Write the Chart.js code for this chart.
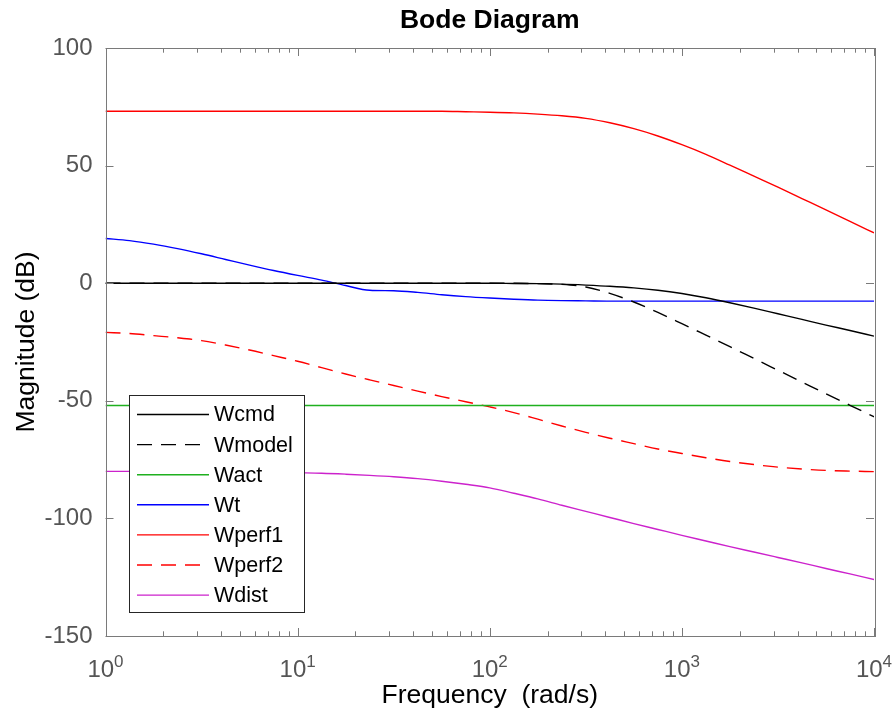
<!DOCTYPE html>
<html>
<head>
<meta charset="utf-8">
<title>Bode Diagram</title>
<script src="https://cdn.jsdelivr.net/npm/chart.js@4.4.1/dist/chart.umd.min.js"></script>
<style>
  html, body { margin: 0; padding: 0; background: #ffffff; }
  #wrap { width: 894px; height: 717px; }
</style>
</head>
<body>
<div id="wrap"><canvas id="bode" width="894" height="717"></canvas></div>
<script>
// Frequency grid (rad/s), eighth-decade spacing from 1 to 1e4
const freq = [1, 1.334, 1.778, 2.371, 3.162, 4.217, 5.623, 7.499,
  10, 13.34, 17.78, 23.71, 31.62, 42.17, 56.23, 74.99,
  100, 133.4, 177.8, 237.1, 316.2, 421.7, 562.3, 749.9,
  1000, 1334, 1778, 2371, 3162, 4217, 5623, 7499, 10000];

// Magnitudes (dB) of each weighting function on the grid above
const wcmd = [0, 0, 0, 0, 0, 0, 0, 0, 0, 0, 0, 0, 0, 0, 0, 0, 0,
  -0.1, -0.2, -0.4, -0.8, -1.3, -2.0, -3.0, -4.4, -6.2, -8.3, -10.6, -13.0, -15.4, -17.8, -20.1, -22.5];
const wmodel = [0, 0, 0, 0, 0, 0, 0, 0, 0, 0, 0, 0, 0, 0, 0, 0, 0, 0,
  -0.2, -0.5, -1.6, -4.3, -8.0, -12.4, -17.2, -22.1, -27.0, -32.0, -37.0, -42.0, -47.0, -51.9, -56.8];
const wact = [-52, -52, -52, -52, -52, -52, -52, -52, -52, -52, -52, -52, -52, -52, -52, -52, -52,
  -52, -52, -52, -52, -52, -52, -52, -52, -52, -52, -52, -52, -52, -52, -52, -52];
const wt = [19.0, 18.1, 16.6, 14.7, 12.5, 10.1, 7.7, 5.4, 3.3, 1.3, -1.0, -3.0, -3.2, -3.9, -4.9, -5.7,
  -6.3, -6.8, -7.2, -7.4, -7.5, -7.6, -7.6, -7.6, -7.6, -7.6, -7.6, -7.6, -7.6, -7.6, -7.6, -7.6, -7.6];
const wperf1 = [73.1, 73.1, 73.1, 73.1, 73.1, 73.1, 73.1, 73.1, 73.1, 73.1, 73.1, 73.1, 73.1, 73.1, 73.1,
  72.9, 72.7, 72.4, 71.9, 71.2, 70.1, 68.2, 65.7, 62.6, 58.9, 54.8, 50.2, 45.5, 40.8, 36.0, 31.2, 26.3, 21.4];
const wperf2 = [-20.9, -21.4, -22.3, -23.2, -24.4, -26.3, -28.4, -30.8, -33.2, -35.9, -38.6, -41.1, -43.5,
  -45.9, -48.2, -50.4, -52.6, -55.0, -57.8, -60.7, -63.4, -65.9, -68.2, -70.5, -72.4, -74.2, -75.8,
  -77.1, -78.2, -79.0, -79.6, -79.9, -80.1];
const wdist = [-80.0, -80.0, -80.0, -80.1, -80.1, -80.2, -80.3, -80.4, -80.6, -80.8, -81.2, -81.7, -82.3,
  -83.1, -84.2, -85.5, -87.0, -89.3, -91.7, -94.4, -97.0, -99.6, -102.2, -104.7, -107.2, -109.6,
  -112.0, -114.3, -116.6, -118.9, -121.3, -123.6, -126.0];

const seriesNames = ['Wcmd', 'Wmodel', 'Wact', 'Wt', 'Wperf1', 'Wperf2', 'Wdist'];
const seriesValues = [wcmd, wmodel, wact, wt, wperf1, wperf2, wdist];
const seriesColors = ['#000000', '#000000', '#1fb01f', '#0000ff', '#ff0000', '#ff0000', '#cc22cc'];
const seriesDashed = [false, true, false, false, false, true, false];

const yTicks = [-150, -100, -50, 0, 50, 100];
const xDecadeExponents = [0, 1, 2, 3, 4];

const FONT = '"Liberation Sans", Arial, Helvetica, sans-serif';
const DASH = [15, 9];

const datasets = seriesNames.map((name, i) => ({
  label: name,
  data: freq.map((f, k) => ({ x: f, y: seriesValues[i][k] })),
  borderColor: seriesColors[i],
  backgroundColor: seriesColors[i],
  borderWidth: 1.4,
  borderDash: seriesDashed[i] ? DASH : [],
  pointRadius: 0,
  fill: false,
  cubicInterpolationMode: 'monotone'
}));

// Axes box, inward ticks, decade labels, axis titles, title and legend
const bodeFrame = {
  id: 'bodeFrame',
  afterDatasetsDraw(chart) {
    const ctx = chart.ctx;
    // legend inside the axes, lower left
    const lx = 129.5, ly = 395.5, lw = 175, lh = 217;
    const rowTop = 414.5, rowStep = 30.1;
    ctx.save();
    ctx.fillStyle = '#ffffff';
    ctx.fillRect(lx, ly, lw, lh);
    ctx.strokeStyle = '#262626';
    ctx.lineWidth = 1;
    ctx.strokeRect(lx, ly, lw, lh);
    ctx.font = '21.5px ' + FONT;
    ctx.textBaseline = 'middle';
    ctx.textAlign = 'left';
    chart.data.datasets.forEach((ds, i) => {
      const y = rowTop + i * rowStep;
      ctx.beginPath();
      ctx.setLineDash(ds.borderDash || []);
      ctx.strokeStyle = ds.borderColor;
      ctx.lineWidth = ds.borderWidth;
      ctx.moveTo(137, y);
      ctx.lineTo(209, y);
      ctx.stroke();
      ctx.setLineDash([]);
      ctx.fillStyle = '#000000';
      ctx.fillText(ds.label, 214, y + 1);
    });
    ctx.restore();
  },
  afterDraw(chart) {
    const ctx = chart.ctx;
    const a = chart.chartArea;
    const xs = chart.scales.x, ys = chart.scales.y;
    ctx.save();
    ctx.strokeStyle = '#7a7a7a';
    ctx.lineWidth = 1;
    ctx.strokeRect(Math.round(a.left) + 0.5, Math.round(a.top) + 0.5,
      Math.round(a.right - a.left), Math.round(a.bottom - a.top));

    // y ticks, left and right, pointing inward
    ctx.beginPath();
    ys.ticks.forEach(t => {
      const py = Math.round(ys.getPixelForValue(t.value)) + 0.5;
      ctx.moveTo(a.left, py); ctx.lineTo(a.left + 8, py);
      ctx.moveTo(a.right, py); ctx.lineTo(a.right - 8, py);
    });
    // x ticks (decades long, in-between short), bottom and top
    xs.ticks.forEach(t => {
      const major = Math.abs(Math.log10(t.value) - Math.round(Math.log10(t.value))) < 1e-9;
      const len = major ? 8 : 4.7;
      const px = Math.round(xs.getPixelForValue(t.value)) + 0.5;
      ctx.moveTo(px, a.bottom); ctx.lineTo(px, a.bottom - len);
      ctx.moveTo(px, a.top); ctx.lineTo(px, a.top + len);
    });
    ctx.stroke();

    // decade labels 10^n
    ctx.fillStyle = '#555555';
    ctx.textBaseline = 'alphabetic';
    ctx.textAlign = 'left';
    xDecadeExponents.forEach(e => {
      const px = xs.getPixelForValue(Math.pow(10, e));
      ctx.font = '24px ' + FONT;
      const wBase = ctx.measureText('10').width;
      ctx.font = '17px ' + FONT;
      const wExp = ctx.measureText(String(e)).width;
      const x0 = px - (wBase + wExp) / 2;
      ctx.font = '24px ' + FONT;
      ctx.fillText('10', x0, a.bottom + 41);
      ctx.font = '17px ' + FONT;
      ctx.fillText(String(e), x0 + wBase, a.bottom + 31);
    });

    // axis titles
    ctx.fillStyle = '#000000';
    ctx.font = '26.5px ' + FONT;
    ctx.textAlign = 'center';
    ctx.fillText('Frequency  (rad/s)', (a.left + a.right) / 2, 703);
    ctx.save();
    ctx.translate(34, (a.top + a.bottom) / 2);
    ctx.rotate(-Math.PI / 2);
    ctx.fillText('Magnitude (dB)', 0, 0);
    ctx.restore();

    // chart title
    ctx.font = 'bold 26.5px ' + FONT;
    ctx.fillText('Bode Diagram', (a.left + a.right) / 2, 28);
    ctx.restore();
  }
};

new Chart(document.getElementById('bode'), {
  type: 'line',
  data: { datasets },
  options: {
    responsive: false,
    animation: false,
    devicePixelRatio: 1,
    layout: { padding: { top: 48, right: 20, bottom: 0, left: 0 } },
    plugins: {
      legend: { display: false },
      title: { display: false },
      tooltip: { enabled: false }
    },
    scales: {
      x: {
        type: 'logarithmic',
        min: 1,
        max: 10000,
        grid: { display: false, drawTicks: false },
        border: { display: false },
        ticks: { display: false },
        afterBuildTicks: scale => {
          const t = [];
          xDecadeExponents.forEach(e => {
            const base = Math.pow(10, e);
            if (e === xDecadeExponents[xDecadeExponents.length - 1]) { t.push({ value: base }); return; }
            for (let m = 1; m <= 9; m++) t.push({ value: m * base });
          });
          scale.ticks = t;
        },
        afterFit: scale => { scale.height = 81; }
      },
      y: {
        min: -150,
        max: 100,
        grid: { display: false, drawTicks: false },
        border: { display: false },
        ticks: {
          color: '#555555',
          font: { size: 24, family: FONT },
          padding: 13
        },
        afterBuildTicks: scale => { scale.ticks = yTicks.map(v => ({ value: v })); },
        afterFit: scale => { scale.width = 105.5; }
      }
    }
  },
  plugins: [bodeFrame]
});
</script>
</body>
</html>
